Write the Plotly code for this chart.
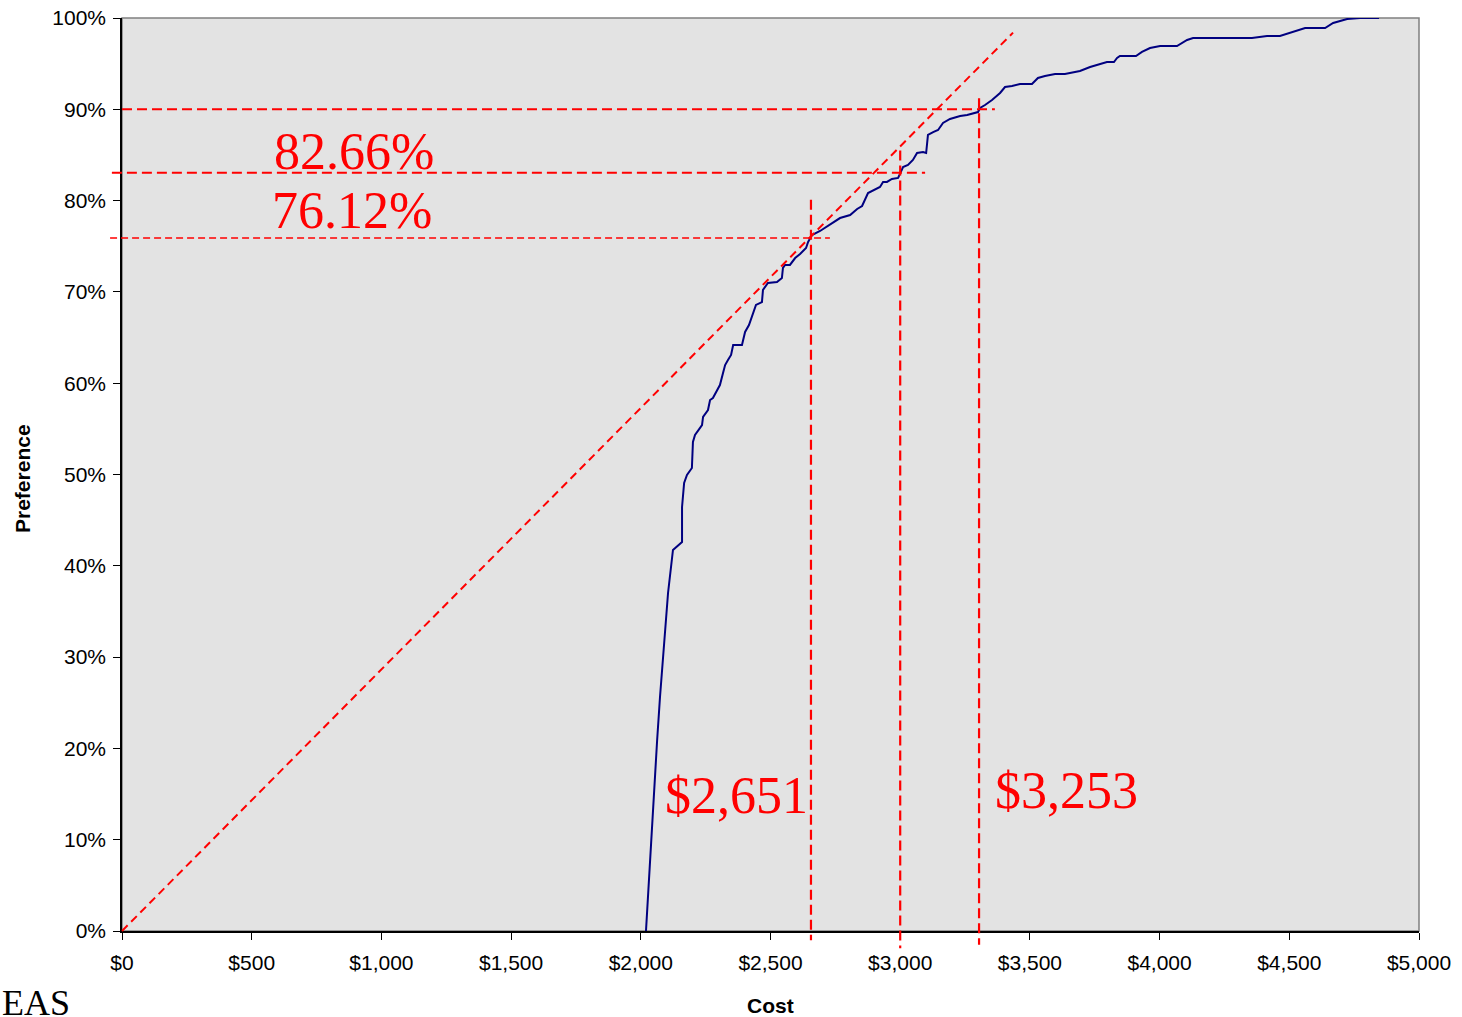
import plotly.graph_objects as go

# ---- data ----
cost = [2020, 2036, 2047, 2063, 2074, 2090, 2105, 2124, 2143, 2159, 2159, 2167, 2178, 2197,
        2201, 2209, 2236, 2240, 2259, 2267, 2278, 2298, 2305, 2317, 2325, 2336, 2348, 2356,
        2390, 2402, 2417, 2444, 2467, 2471, 2490, 2525, 2544, 2548, 2556, 2575, 2595, 2614,
        2637, 2645, 2660, 2691, 2768, 2807, 2834, 2853, 2876, 2922, 2934, 2949, 2968, 2992,
        2999, 3011, 3030, 3049, 3065, 3088, 3100, 3103, 3107, 3127, 3146, 3165, 3192, 3231,
        3258, 3300, 3308, 3327, 3354, 3385, 3404, 3431, 3462, 3508, 3531, 3558, 3597, 3635,
        3693, 3732, 3797, 3824, 3836, 3847, 3909, 3932, 3963, 4002, 4067, 4106, 4129, 4356,
        4414, 4464, 4514, 4561, 4638, 4669, 4723, 4773, 4846]
preference = [0.00, 7.78, 14.02, 20.92, 25.63, 31.87, 37.02, 41.73, 42.17, 42.61, 46.44, 49.07,
              49.95, 50.71, 53.56, 54.33, 55.42, 56.30, 57.06, 58.16, 58.38, 59.47, 59.80, 61.12,
              61.99, 62.54, 63.09, 64.18, 64.18, 65.61, 66.37, 68.57, 68.89, 70.21, 70.97, 71.08,
              71.52, 72.62, 72.95, 72.95, 73.71, 74.15, 74.81, 75.47, 76.23, 76.67, 78.09, 78.42,
              79.08, 79.41, 80.83, 81.49, 82.04, 82.04, 82.37, 82.48, 82.91, 83.68, 83.90, 84.45,
              85.21, 85.32, 85.21, 86.31, 87.19, 87.51, 87.73, 88.50, 88.94, 89.27, 89.38, 89.70,
              90.14, 90.47, 91.02, 91.79, 92.44, 92.55, 92.77, 92.77, 93.43, 93.65, 93.87, 93.87,
              94.19, 94.63, 95.18, 95.18, 95.62, 95.84, 95.84, 96.28, 96.71, 96.93, 96.93, 97.59,
              97.81, 97.81, 98.03, 98.03, 98.47, 98.90, 98.90, 99.45, 99.89, 100.0, 100.0]

x_tickvals = [0, 500, 1000, 1500, 2000, 2500, 3000, 3500, 4000, 4500, 5000]
x_ticktext = ["$0", "$500", "$1,000", "$1,500", "$2,000", "$2,500", "$3,000",
              "$3,500", "$4,000", "$4,500", "$5,000"]
y_tickvals = [0, 10, 20, 30, 40, 50, 60, 70, 80, 90, 100]
y_ticktext = ["0%", "10%", "20%", "30%", "40%", "50%", "60%", "70%", "80%", "90%", "100%"]

# reference lines (cost, preference)
diag_end = (3435, 98.4)
h_lines = [  # (pref, x_start, x_end)
    (90.0, 0, 3365),
    (83.05, -39, 3096),
    (75.9, -46, 2729),
]
v_lines = [  # (cost, top pref, bottom pref)
    (2656, 80.1, -1.0),
    (3000, 85.5, -1.9),
    (3304, 91.2, -1.5),
]
labels_pct = ["82.66%", "76.12%"]
labels_cost = ["$2,651", "$3,253"]

X_RANGE = (0, 5000)
Y_RANGE = (0, 100)


def px(v):
    return (v - X_RANGE[0]) / (X_RANGE[1] - X_RANGE[0])


def py(v):
    return (v - Y_RANGE[0]) / (Y_RANGE[1] - Y_RANGE[0])


RED = "#ff0000"
fig = go.Figure()
fig.add_trace(go.Scatter(x=cost, y=preference, mode="lines",
                         line=dict(color="#000080", width=2), hoverinfo="skip"))

shapes = []
# plot border (top/right gray)
shapes.append(dict(type="rect", xref="paper", yref="paper", x0=0, y0=0, x1=1, y1=1,
                   line=dict(color="#808080", width=1.5), layer="below"))
# diagonal
shapes.append(dict(type="line", xref="paper", yref="paper", x0=px(0), y0=py(0),
                   x1=px(diag_end[0]), y1=py(diag_end[1]),
                   line=dict(color=RED, width=2, dash="8px,5px")))
widths = [2, 2, 1.6]
dashes = ["10px,5px", "10px,5px", "7px,4px"]
for (yv, xs, xe), w, d in zip(h_lines, widths, dashes):
    shapes.append(dict(type="line", xref="paper", yref="paper", x0=px(xs), x1=px(xe),
                       y0=py(yv), y1=py(yv), line=dict(color=RED, width=w, dash=d)))
for (xv, yt, yb) in v_lines:
    shapes.append(dict(type="line", xref="paper", yref="paper", x0=px(xv), x1=px(xv),
                       y0=py(yt), y1=py(yb), line=dict(color=RED, width=2.2, dash="10px,5px")))

serif = "Liberation Serif, Times New Roman, serif"
sans = "Liberation Sans, Arial, sans-serif"
ann = []
ann.append(dict(x=578, y=85.4, xref="x", yref="y", text=labels_pct[0], showarrow=False,
                xanchor="left", yanchor="middle", font=dict(family=serif, size=52, color=RED)))
ann.append(dict(x=570, y=78.9, xref="x", yref="y", text=labels_pct[1], showarrow=False,
                xanchor="left", yanchor="middle", font=dict(family=serif, size=52, color=RED)))
ann.append(dict(x=2085, y=14.8, xref="x", yref="y", text=labels_cost[0], showarrow=False,
                xanchor="left", yanchor="middle", font=dict(family=serif, size=52, color=RED)))
ann.append(dict(x=3358, y=15.4, xref="x", yref="y", text=labels_cost[1], showarrow=False,
                xanchor="left", yanchor="middle", font=dict(family=serif, size=52, color=RED)))
ann.append(dict(x=-122 / 1297, y=-72 / 913, xref="paper", yref="paper", text="EAS",
                showarrow=False, xanchor="left", yanchor="middle",
                font=dict(family=serif, size=36, color="black")))
ann.append(dict(x=(770 - 122) / 1297, y=-74 / 913, xref="paper", yref="paper",
                text="<b>Cost</b>", showarrow=False, xanchor="center", yanchor="middle",
                font=dict(family=sans, size=21, color="black")))
ann.append(dict(x=-100 / 1297, y=(931 - 478) / 913, xref="paper", yref="paper",
                text="<b>Preference</b>", showarrow=False, xanchor="center", yanchor="middle",
                textangle=-90, font=dict(family=sans, size=21, color="black")))

fig.update_layout(
    template="none",
    width=1462, height=1017,
    margin=dict(l=122, r=43, t=18, b=86, autoexpand=False),
    paper_bgcolor="white", plot_bgcolor="#e3e3e3",
    showlegend=False,
    font=dict(family=sans, size=20, color="black"),
    shapes=shapes, annotations=ann,
    xaxis=dict(range=list(X_RANGE), tickvals=x_tickvals, ticktext=x_ticktext, automargin=False,
               showgrid=False, zeroline=False, showline=True, linecolor="black", linewidth=1.5,
               ticks="outside", ticklen=7, tickcolor="black", tickfont=dict(size=21),
               ticklabelstandoff=5),
    yaxis=dict(range=list(Y_RANGE), tickvals=y_tickvals, ticktext=y_ticktext, automargin=False,
               showgrid=False, zeroline=False, showline=True, linecolor="black", linewidth=1.5,
               ticks="outside", ticklen=7, tickcolor="black", tickfont=dict(size=21),
               ticklabelstandoff=3),
)

fig.write_html("out.html", config={"displayModeBar": False},
               post_script="document.body.style.margin='0px';"
                           "document.body.style.overflow='hidden';")
